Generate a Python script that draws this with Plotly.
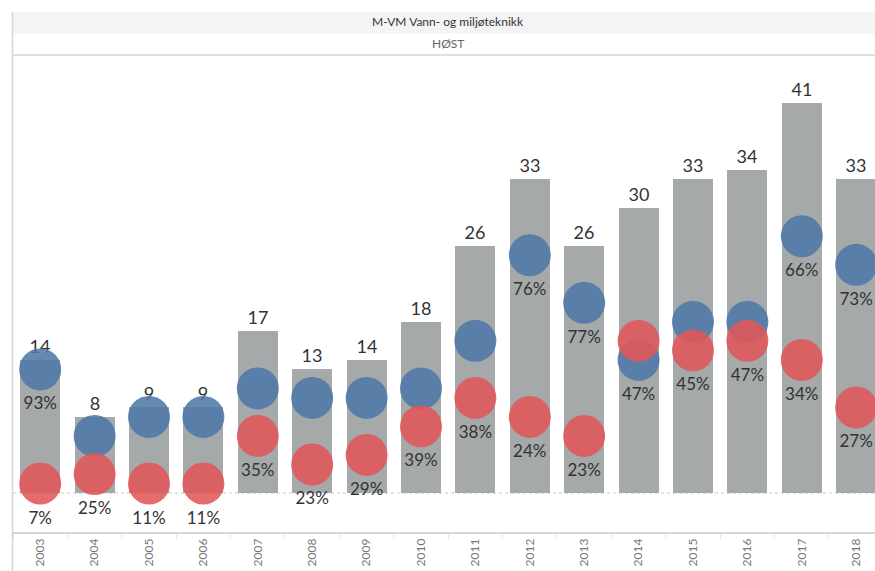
import plotly.graph_objects as go

years = ["2003", "2004", "2005", "2006", "2007", "2008", "2009", "2010",
         "2011", "2012", "2013", "2014", "2015", "2016", "2017", "2018"]
totals = [14, 8, 9, 9, 17, 13, 14, 18, 26, 33, 26, 30, 33, 34, 41, 33]
blue_counts = [13, 6, 8, 8, 11, 10, 10, 11, 16, 25, 20, 14, 18, 18, 27, 24]
red_counts = [1, 2, 1, 1, 6, 3, 4, 7, 10, 8, 6, 16, 15, 16, 14, 9]
blue_labels = ["93%", "", "", "", "", "", "", "", "", "76%", "77%", "47%", "", "", "66%", "73%"]
red_labels = ["7%", "25%", "11%", "11%", "35%", "23%", "29%", "39%", "38%", "24%", "23%", "", "45%", "47%", "34%", "27%"]

title_text = "M-VM Vann- og miljøteknikk"
subtitle_text = "HØST"

FONT = "Lato, 'Open Sans', sans-serif"

fig = go.Figure()
fig.add_trace(go.Bar(
    x=years, y=totals, width=0.735,
    marker=dict(color="#a5a9a9", line=dict(width=0)),
    text=[str(v) for v in totals], textposition="outside",
    textfont=dict(size=18, color="#333333", family=FONT),
    cliponaxis=False, hoverinfo="x+y",
))
fig.add_trace(go.Scatter(
    x=years, y=blue_counts, mode="markers+text",
    marker=dict(size=42, color="#4e79a7", opacity=0.88, line=dict(width=0)),
    text=blue_labels, textposition="bottom center",
    textfont=dict(size=17, color="#333333", family=FONT),
    cliponaxis=False,
))
fig.add_trace(go.Scatter(
    x=years, y=red_counts, mode="markers+text",
    marker=dict(size=42, color="#e15759", opacity=0.88, line=dict(width=0)),
    text=red_labels, textposition="bottom center",
    textfont=dict(size=17, color="#333333", family=FONT),
    cliponaxis=False,
))

shapes = [
    # header band
    dict(type="rect", xref="paper", yref="paper", x0=0, x1=1, y0=1.0451, y1=1.0901,
         fillcolor="#f4f4f4", line=dict(width=0), layer="below"),
    # border under subtitle band
    dict(type="line", xref="paper", yref="paper", x0=0, x1=1, y0=1.0, y1=1.0,
         line=dict(color="#d6d6d6", width=1.5)),
    # left border
    dict(type="line", xref="paper", yref="paper", x0=-0.0006, x1=-0.0006, y0=-0.085, y1=1.0901,
         line=dict(color="#d6d6d6", width=1.5)),
    # dotted zero line
    dict(type="line", xref="paper", yref="y", x0=0, x1=1, y0=0, y1=0,
         line=dict(color="#c8c8c8", width=1, dash="dot"), layer="below"),
]

annotations = [
    dict(text=title_text, xref="x", yref="paper", x=7.5, y=1.0692, showarrow=False,
         xanchor="center", yanchor="middle", font=dict(size=12, color="#333333", family=FONT)),
    dict(text=subtitle_text, xref="x", yref="paper", x=7.5, y=1.0231, showarrow=False,
         xanchor="center", yanchor="middle", font=dict(size=12, color="#666666", family=FONT)),
]

fig.update_layout(
    width=875, height=571,
    margin=dict(l=13, r=0, t=55, b=39, pad=0),
    paper_bgcolor="white", plot_bgcolor="white",
    showlegend=False, bargap=0,
    shapes=shapes, annotations=annotations,
    font=dict(family=FONT),
    xaxis=dict(type="category", categoryorder="array", categoryarray=years,
               range=[-0.5, 15.346], tickangle=-90,
               tickfont=dict(size=12, color="#777777", family=FONT),
               showline=True, linecolor="#d6d6d6", linewidth=1.5,
               ticks="outside", tickson="boundaries", ticklen=5, tickcolor="#e4e4e4",
               showgrid=False, zeroline=False, fixedrange=True),
    yaxis=dict(range=[-4.10, 46.06], visible=False, showgrid=False, zeroline=False,
               fixedrange=True),
)

fig.write_html(
    "out.html",
    config={"displayModeBar": False},
    post_script="document.body.style.margin='0';document.body.style.padding='0';"
                "document.body.style.overflow='hidden';",
)
